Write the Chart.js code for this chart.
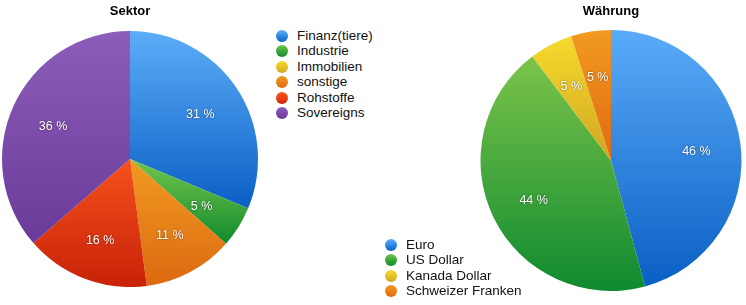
<!DOCTYPE html>
<html>
<head>
<meta charset="utf-8">
<script src="https://cdn.jsdelivr.net/npm/chart.js@4"></script>
<style>
    body {
        margin: 0;
        background: #fff;
        font-family: "Liberation Sans", Arial, sans-serif;
    }
    #page {
        position: relative;
        width: 746px;
        height: 305px;
        overflow: hidden;
    }
    .box {
        position: absolute;
    }
    .legend {
        position: absolute;
        font-size: 13.5px;
        color: #111;
    }
    .legend div {
        height: 15.4px;
        line-height: 15.4px;
        white-space: nowrap;
    }
    .legend span {
        display: inline-block;
        width: 12px;
        height: 12px;
        border-radius: 50%;
        vertical-align: -2px;
        margin-right: 9px;
    }
</style>
</head>
<body>
<div id="page">
    <div class="box" style="left:0px;top:0px;width:260px;height:287px">
        <canvas id="sektorChart"></canvas>
    </div>
    <div class="legend" id="sektorLegend" style="left:276px;top:28px"></div>

    <div class="box" style="left:480px;top:0px;width:262px;height:291px">
        <canvas id="waehrungChart"></canvas>
    </div>
    <div class="legend" id="waehrungLegend" style="left:385px;top:237px"></div>
</div>

<script>
    // Sektor
    const sektorLabels = ["Finanz(tiere)", "Industrie", "Immobilien", "sonstige", "Rohstoffe", "Sovereigns"];
    const sektorValues = [31.3, 5.2, 0, 11.4, 15.7, 36.4];
    const sektorHell   = ["#5cadf8", "#72c64c", "#f6d82e", "#f29a22", "#f5521c", "#8c5eba"];
    const sektorDunkel = ["#0a5fc4", "#128a2c", "#d2a820", "#dc6a10", "#c82208", "#6a3a98"];
    const sektorPunkt  = ["#2f8ae6", "#3aa83a", "#e6c424", "#ec8218", "#e84414", "#7e4aac"];

    // Währung
    const waehrungLabels = ["Euro", "US Dollar", "Kanada Dollar", "Schweizer Franken"];
    const waehrungValues = [45.8, 43.9, 5.35, 4.95];
    const waehrungHell   = ["#5aabf8", "#7cc44a", "#f6da2c", "#f29a22"];
    const waehrungDunkel = ["#0a5fc4", "#0f8a30", "#d0a622", "#e06a10"];
    const waehrungPunkt  = ["#2f8ae6", "#3aa83a", "#e6c424", "#ec8218"];

    // jede Scheibe bekommt einen Verlauf von oben (hell) nach unten (dunkel)
    const verlaufPlugin = {
        id: 'verlauf',
        beforeDatasetsDraw(chart) {
            const ctx = chart.ctx;
            const hell = chart.options.plugins.verlauf.hell;
            const dunkel = chart.options.plugins.verlauf.dunkel;
            chart.getDatasetMeta(0).data.forEach(function(arc, i) {
                const p = arc.getProps(['x', 'y', 'startAngle', 'endAngle', 'outerRadius']);
                let ys = [p.y, p.y + Math.sin(p.startAngle) * p.outerRadius, p.y + Math.sin(p.endAngle) * p.outerRadius];
                for (let k = -4; k <= 8; k++) {
                    const a = k * Math.PI / 2;
                    if (a > p.startAngle && a < p.endAngle) {
                        ys.push(p.y + Math.sin(a) * p.outerRadius);
                    }
                }
                const minY = Math.min.apply(null, ys);
                const maxY = Math.max.apply(null, ys);
                const g = ctx.createLinearGradient(0, minY, 0, maxY + 0.01);
                g.addColorStop(0, hell[i]);
                g.addColorStop(1, dunkel[i]);
                arc.options = Object.assign({}, arc.options, { backgroundColor: g });
            });
        },
        afterDatasetsDraw(chart) {
            const ctx = chart.ctx;
            const data = chart.data.datasets[0].data;
            const total = data.reduce(function(a, b) { return a + b; }, 0);
            ctx.save();
            ctx.font = '12.5px "Liberation Sans", Arial, sans-serif';
            ctx.textAlign = 'center';
            ctx.textBaseline = 'middle';
            ctx.fillStyle = '#ffffff';
            ctx.shadowColor = 'rgba(0,0,0,0.55)';
            ctx.shadowBlur = 2;
            chart.getDatasetMeta(0).data.forEach(function(arc, i) {
                if (data[i] <= 0) return;
                const p = arc.getProps(['x', 'y', 'startAngle', 'endAngle', 'outerRadius']);
                const mid = (p.startAngle + p.endAngle) / 2;
                const r = p.outerRadius * 0.66;
                ctx.fillText(Math.round(data[i] / total * 100) + ' %', p.x + Math.cos(mid) * r, p.y + Math.sin(mid) * r + 2.5);
            });
            ctx.restore();
        }
    };

    function kuchen(id, titel, labels, values, hell, dunkel, padUnten) {
        return new Chart(id, {
            type: 'pie',
            data: {
                labels: labels,
                datasets: [{
                    data: values,
                    backgroundColor: hell,
                    borderWidth: 0,
                    hoverOffset: 0
                }]
            },
            options: {
                responsive: true,
                maintainAspectRatio: false,
                animation: false,
                events: [],
                layout: { padding: 0 },
                plugins: {
                    legend: { display: false },
                    tooltip: { enabled: false },
                    title: {
                        display: true,
                        text: titel,
                        color: '#000',
                        font: { family: '"Liberation Sans", Arial, sans-serif', size: 13, weight: 'bold' },
                        padding: { top: 4, bottom: padUnten }
                    },
                    verlauf: { hell: hell, dunkel: dunkel }
                }
            },
            plugins: [verlaufPlugin]
        });
    }

    kuchen("sektorChart", "Sektor", sektorLabels, sektorValues, sektorHell, sektorDunkel, 11.4);
    kuchen("waehrungChart", "Währung", waehrungLabels, waehrungValues, waehrungHell, waehrungDunkel, 10.4);

    function legende(id, labels, hell, punkt, dunkel) {
        const el = document.getElementById(id);
        labels.forEach(function(l, i) {
            const row = document.createElement('div');
            const dot = document.createElement('span');
            dot.style.background = 'linear-gradient(' + hell[i] + ', ' + punkt[i] + ' 50%, ' + dunkel[i] + ')';
            row.appendChild(dot);
            row.appendChild(document.createTextNode(l));
            el.appendChild(row);
        });
    }
    legende("sektorLegend", sektorLabels, sektorHell, sektorPunkt, sektorDunkel);
    legende("waehrungLegend", waehrungLabels, waehrungHell, waehrungPunkt, waehrungDunkel);
</script>
</body>
</html>
